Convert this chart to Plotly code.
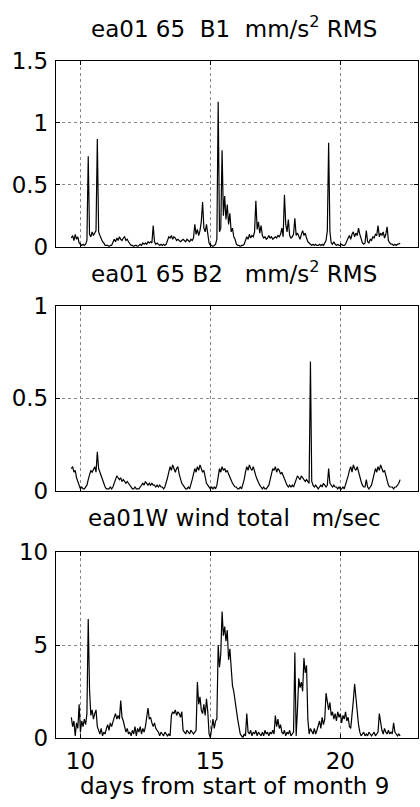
import plotly.graph_objects as go

# sampling of the records (days from start of month 9)
t_start = 9.65
t_step = 0.05

# ea01 65 B1  mm/s^2 RMS
b1 = [
    0.07, 0.09, 0.05, 0.10, 0.06, 0.08, 0.03,
    0.02, 0.01, 0.02, 0.01, 0.02, 0.05, 0.73, 0.10, 0.08, 0.12, 0.09, 0.11, 0.13, 0.87, 0.12, 0.09, 0.06, 0.04, 0.03, 0.01,
    0.01, 0.01, 0.00, 0.01, 0.01, 0.03, 0.06, 0.04, 0.07, 0.05, 0.08, 0.06, 0.05, 0.07, 0.08, 0.05, 0.06, 0.04, 0.02, 0.01,
    0.01, 0.00, 0.01, 0.01, 0.00, 0.01, 0.02, 0.01, 0.03, 0.02, 0.03, 0.02, 0.04, 0.03, 0.04, 0.03, 0.17, 0.04, 0.02, 0.03,
    0.02, 0.01, 0.02, 0.01, 0.02, 0.01, 0.02, 0.06, 0.08, 0.07, 0.09, 0.06, 0.08, 0.07, 0.05, 0.06, 0.05, 0.04, 0.05, 0.06,
    0.05, 0.04, 0.06, 0.05, 0.04, 0.06, 0.05, 0.07, 0.18, 0.10, 0.14, 0.09, 0.13, 0.20, 0.36, 0.15, 0.12, 0.18, 0.08, 0.03,
    0.01, 0.01, 0.00, 0.01, 0.02, 0.06, 1.17, 0.12, 0.15, 0.78, 0.25, 0.41, 0.22, 0.34, 0.18, 0.27, 0.12, 0.15, 0.08, 0.06,
    0.02, 0.01, 0.01, 0.00, 0.01, 0.01, 0.02, 0.05, 0.08, 0.06, 0.10, 0.07, 0.09, 0.08, 0.12, 0.37, 0.14, 0.20, 0.11, 0.17,
    0.09, 0.07, 0.08, 0.06, 0.07, 0.09, 0.07, 0.08, 0.06, 0.07, 0.08, 0.07, 0.09, 0.08, 0.10, 0.15, 0.08, 0.42, 0.18, 0.12,
    0.22, 0.09, 0.07, 0.08, 0.10, 0.23, 0.09, 0.11, 0.08, 0.06, 0.10, 0.13, 0.09, 0.11, 0.07, 0.04, 0.03, 0.02, 0.01, 0.02,
    0.01, 0.02, 0.01, 0.01, 0.02, 0.01, 0.02, 0.01, 0.03, 0.05, 0.13, 0.84, 0.12, 0.03, 0.02, 0.04, 0.02, 0.01, 0.02, 0.01,
    0.01, 0.02, 0.01, 0.01, 0.02, 0.05, 0.07, 0.09, 0.06, 0.10, 0.12, 0.08, 0.11, 0.09, 0.15, 0.10, 0.06, 0.03, 0.02, 0.03,
    0.13, 0.04, 0.03, 0.06, 0.05, 0.08, 0.07, 0.10, 0.09, 0.17, 0.08, 0.11, 0.09, 0.12, 0.07, 0.10, 0.16, 0.05, 0.03, 0.02,
    0.02, 0.01, 0.02, 0.01, 0.02, 0.02, 0.03,
]

# ea01 65 B2  mm/s^2 RMS
b2 = [
    0.12, 0.13, 0.10, 0.11, 0.07, 0.05, 0.03,
    0.01, 0.02, 0.01, 0.01, 0.02, 0.03, 0.06, 0.09, 0.11, 0.10, 0.12, 0.13, 0.10, 0.21, 0.12, 0.10, 0.07, 0.05, 0.03, 0.02,
    0.01, 0.01, 0.01, 0.02, 0.01, 0.02, 0.04, 0.06, 0.08, 0.07, 0.06, 0.07, 0.05, 0.06, 0.05, 0.04, 0.05, 0.04, 0.03, 0.02,
    0.01, 0.01, 0.02, 0.01, 0.01, 0.01, 0.02, 0.03, 0.04, 0.03, 0.05, 0.04, 0.03, 0.04, 0.03, 0.04, 0.03, 0.03, 0.02, 0.03,
    0.02, 0.03, 0.02, 0.02, 0.01, 0.02, 0.04, 0.07, 0.10, 0.13, 0.11, 0.14, 0.12, 0.10, 0.12, 0.13, 0.09, 0.06, 0.04, 0.03,
    0.02, 0.01, 0.01, 0.02, 0.01, 0.03, 0.06, 0.09, 0.12, 0.10, 0.13, 0.11, 0.14, 0.12, 0.10, 0.11, 0.07, 0.04, 0.03, 0.02,
    0.01, 0.02, 0.01, 0.02, 0.01, 0.03, 0.09, 0.12, 0.10, 0.13, 0.11, 0.12, 0.10, 0.11, 0.09, 0.07, 0.05, 0.04, 0.03, 0.02,
    0.02, 0.01, 0.01, 0.02, 0.01, 0.03, 0.06, 0.10, 0.13, 0.11, 0.14, 0.12, 0.11, 0.13, 0.10, 0.08, 0.06, 0.04, 0.03, 0.02,
    0.01, 0.02, 0.01, 0.01, 0.02, 0.03, 0.06, 0.10, 0.12, 0.11, 0.13, 0.10, 0.12, 0.11, 0.09, 0.10, 0.08, 0.06, 0.05, 0.03,
    0.02, 0.03, 0.02, 0.03, 0.02, 0.04, 0.06, 0.08, 0.07, 0.06, 0.08, 0.07, 0.06, 0.05, 0.06, 0.05, 0.04, 0.70, 0.05, 0.03,
    0.02, 0.03, 0.02, 0.01, 0.02, 0.03, 0.02, 0.04, 0.03, 0.02, 0.03, 0.12, 0.04, 0.03, 0.02, 0.03, 0.02, 0.02, 0.01, 0.02,
    0.01, 0.01, 0.02, 0.01, 0.03, 0.05, 0.08, 0.11, 0.13, 0.10, 0.14, 0.12, 0.11, 0.13, 0.10, 0.08, 0.05, 0.03, 0.02, 0.02,
    0.06, 0.02, 0.01, 0.02, 0.03, 0.06, 0.09, 0.12, 0.10, 0.13, 0.11, 0.14, 0.12, 0.10, 0.11, 0.08, 0.05, 0.03, 0.02, 0.02,
    0.02, 0.01, 0.02, 0.02, 0.03, 0.04, 0.06,
]

# ea01W wind total  m/sec
wind = [
    1.1, 0.6, 0.9, 0.1, 0.8, 0.5, 1.8,
    0.3, 0.9, 0.6, 1.0, 0.7, 1.3, 6.4, 2.6, 1.2, 1.5, 1.0, 1.3, 1.5, 0.6, 0.4, 0.2, 0.5, 0.1, 0.3, 0.2,
    0.5, 0.7, 0.4, 0.8, 0.6, 0.9, 1.1, 1.3, 1.0, 1.2, 1.0, 2.0, 1.1, 0.9, 0.5, 0.3, 0.5, 0.2, 0.3, 0.1,
    0.4, 0.2, 0.6, 0.1, 0.5, 0.3, 0.6, 0.2, 0.5, 0.3, 0.6, 1.3, 1.6, 1.0, 1.1, 0.8, 0.6, 0.8, 0.5, 0.4,
    0.3, 0.1, 0.3, 0.2, 0.1, 0.3, 0.2, 0.1, 0.2, 0.1, 1.2, 1.4, 1.3, 1.5, 1.2, 1.4, 1.3, 1.1, 1.4, 0.4,
    0.3, 0.2, 0.4, 0.3, 0.2, 0.4, 0.3, 0.2, 0.3, 0.4, 3.0, 1.8, 2.2, 1.5, 1.3, 1.8, 1.2, 2.1, 1.4, 0.2,
    0.0, 0.6, 1.0, 0.5, 0.9, 1.0, 5.0, 3.8, 4.5, 6.8, 5.5, 6.0, 5.2, 5.8, 4.2, 4.8, 3.5, 2.8, 2.5, 1.9,
    1.5, 1.0, 0.6, 0.2, 0.1, 0.0, 0.2, 0.1, 1.3, 0.3, 0.2, 0.4, 0.1, 0.3, 0.2, 0.4, 0.1, 0.3, 0.2, 0.1,
    0.3, 0.1, 0.4, 0.2, 0.3, 0.1, 0.3, 0.2, 0.4, 0.2, 1.2, 0.6, 1.0, 0.5, 0.7, 0.3, 0.2, 0.4, 0.1, 0.3,
    0.2, 0.4, 0.1, 0.2, 0.3, 4.6, 0.1, 1.5, 3.2, 2.7, 3.0, 2.5, 4.3, 3.5, 3.9, 1.0, 0.2, 0.5, 0.3, 0.2,
    0.5, 0.2, 0.4, 0.6, 0.9, 0.5, 1.1, 0.7, 1.0, 2.4, 1.8, 1.5, 1.9, 1.2, 1.4, 1.0, 1.3, 0.9, 1.4, 1.1,
    1.3, 0.8, 1.2, 1.0, 1.4, 0.9, 1.1, 0.6, 0.5, 1.5, 2.0, 2.9, 2.1, 1.6, 0.7, 0.3, 0.1, 0.2, 0.3, 0.1,
    0.2, 0.1, 0.3, 0.2, 0.1, 0.2, 0.3, 0.1, 0.2, 0.3, 1.3, 0.7, 0.4, 0.2, 0.5, 0.3, 0.2, 0.4, 0.2, 0.3,
    0.2, 0.8, 0.3, 0.2, 0.1, 0.2, 0.1,
]

titles = [
    "ea01 65\u00a0\u00a0B1\u00a0\u00a0mm/s<sup>2</sup> RMS",
    "ea01 65 B2\u00a0\u00a0\u00a0mm/s<sup>2</sup> RMS",
    "ea01W wind total\u00a0\u00a0\u00a0m/sec",
]
y_ranges = [[0, 1.5], [0, 1], [0, 10]]
y_ticks = [[0, 0.5, 1, 1.5], [0, 0.5, 1], [0, 5, 10]]
y_ticktext = [["0", "0.5", "1", "1.5"], ["0", "0.5", "1"], ["0", "5", "10"]]
x_ticks = [10, 15, 20]
x_range = [9.06, 23.0]
x_label = "days from start of month 9"

W, H = 420, 807
FONT = "DejaVu Sans"
FS = 23

# plot areas in pixels (left, right, top, bottom)
left_px, right_px = 56, 418.3
rows_px = [(61, 246.7), (306, 490.7), (552.3, 737.7)]

t = [round(t_start + i * t_step, 3) for i in range(len(b1))]
series = [b1, b2, wind]

fig = go.Figure()
layout = dict(
    width=W, height=H, autosize=False,
    margin=dict(l=0, r=0, t=0, b=0, pad=0),
    paper_bgcolor="white", plot_bgcolor="white",
    showlegend=False,
    font=dict(family=FONT, size=FS, color="black"),
    annotations=[],
)

for k in range(3):
    top, bot = rows_px[k]
    xa = "xaxis" if k == 0 else f"xaxis{k+1}"
    ya = "yaxis" if k == 0 else f"yaxis{k+1}"
    xr = "x" if k == 0 else f"x{k+1}"
    yr = "y" if k == 0 else f"y{k+1}"
    fig.add_trace(go.Scatter(x=t, y=series[k], mode="lines",
                             line=dict(color="black", width=1.2),
                             xaxis=xr, yaxis=yr, hoverinfo="skip"))
    layout[xa] = dict(
        domain=[left_px / W, right_px / W], anchor=yr, automargin=False,
        range=x_range, tickvals=x_ticks, ticktext=[str(v) for v in x_ticks],
        showticklabels=(k == 2), ticks="inside", ticklen=4, tickcolor="black",
        showline=True, linecolor="black", linewidth=1.3, mirror="ticks",
        showgrid=True, gridcolor="#888", griddash="dot", gridwidth=1,
        zeroline=False, tickfont=dict(family=FONT, size=FS),
        ticklabelstandoff=3,
    )
    layout[ya] = dict(
        domain=[1 - bot / H, 1 - top / H], anchor=xr, automargin=False,
        range=y_ranges[k], tickvals=y_ticks[k], ticktext=y_ticktext[k],
        ticks="inside", ticklen=4, tickcolor="black",
        showline=True, linecolor="black", linewidth=1.3, mirror="ticks",
        showgrid=True, gridcolor="#888", griddash="dot", gridwidth=1,
        zeroline=False, tickfont=dict(family=FONT, size=FS),
        ticklabelstandoff=2,
    )
    layout["annotations"].append(dict(
        text=titles[k], xref="paper", yref="paper",
        x=234 / W, y=1 - (top - 34) / H, xanchor="center", yanchor="middle",
        showarrow=False, font=dict(family=FONT, size=FS, color="black"),
    ))

layout["annotations"].append(dict(
    text=x_label, xref="paper", yref="paper",
    x=234 / W, y=1 - 786 / H, xanchor="center", yanchor="middle",
    showarrow=False, font=dict(family=FONT, size=FS, color="black"),
))

fig.update_layout(**layout)
fig.write_html("out.html")
